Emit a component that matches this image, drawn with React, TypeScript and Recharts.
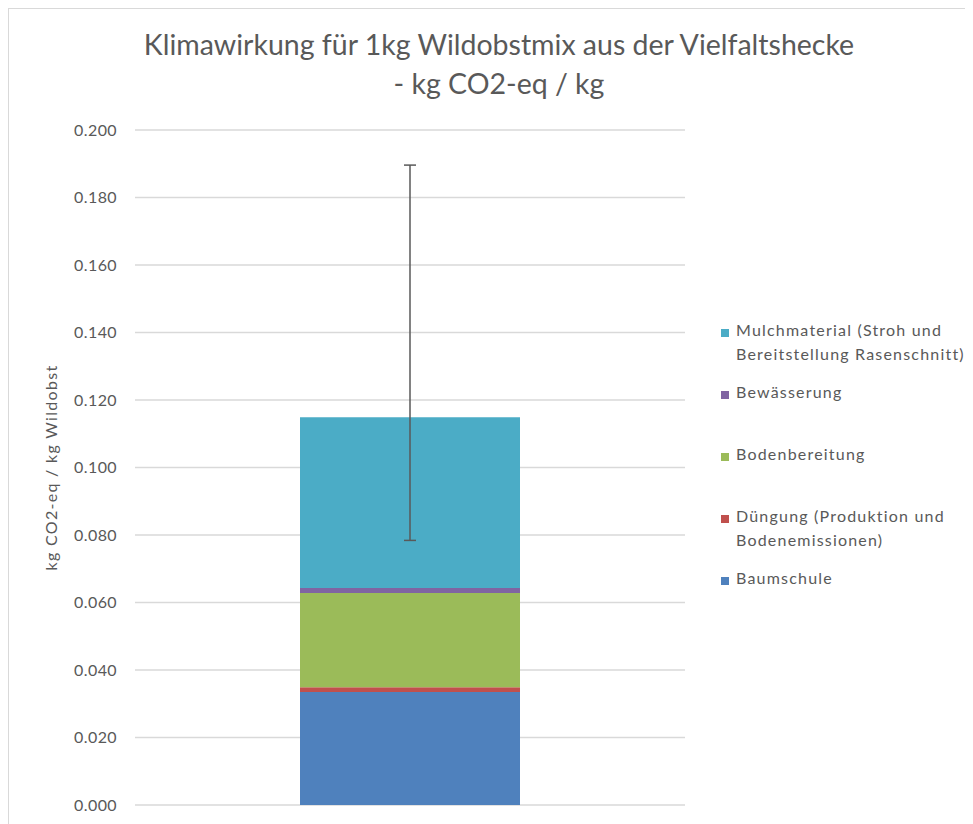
import React from "react";
import { BarChart, Bar, XAxis, YAxis, CartesianGrid, Legend, ErrorBar } from "recharts";

const categories = ["Wildobstmix"];
const baumschule = [0.0335];
const duengung = [0.0014];
const bodenbereitung = [0.0279];
const bewaesserung = [0.0015];
const mulch = [0.0506];
const errLow = [0.0365];
const errHigh = [0.0747];
const yTicks = [0, 0.02, 0.04, 0.06, 0.08, 0.1, 0.12, 0.14, 0.16, 0.18, 0.2];

const seriesNames = {
  baumschule: "Baumschule",
  duengung: "Düngung (Produktion und Bodenemissionen)",
  bodenbereitung: "Bodenbereitung",
  bewaesserung: "Bewässerung",
  mulch: "Mulchmaterial (Stroh und Bereitstellung Rasenschnitt)",
};

const legendItems = [
  { lines: ["Mulchmaterial (Stroh und", "Bereitstellung Rasenschnitt)"], color: "#4bacc6" },
  { lines: ["Bewässerung"], color: "#8064a2" },
  { lines: ["Bodenbereitung"], color: "#9bbb59" },
  { lines: ["Düngung (Produktion und", "Bodenemissionen)"], color: "#c0504d" },
  { lines: ["Baumschule"], color: "#4f81bd" },
];

const data = categories.map((c, i) => ({
  name: c,
  baumschule: baumschule[i],
  duengung: duengung[i],
  bodenbereitung: bodenbereitung[i],
  bewaesserung: bewaesserung[i],
  mulch: mulch[i],
  err: [errLow[i], errHigh[i]],
}));

const FONT = "Lato, 'Open Sans', sans-serif";
const GREY = "#595959";
const LEGEND_W = 260;

const renderLegend = () => (
  <div style={{ fontFamily: FONT, fontSize: 16, letterSpacing: "1.2px", color: GREY }}>
    {legendItems.map((it, i) => (
      <div key={i} style={{ height: 62, position: "relative" }}>
        <div
          style={{
            position: "absolute",
            left: 0,
            top: 7,
            width: 8,
            height: 8,
            background: it.color,
          }}
        />
        <div style={{ position: "absolute", left: 15, top: -4, lineHeight: "24px", whiteSpace: "nowrap" }}>
          {it.lines.map((l, j) => (
            <div key={j}>{l}</div>
          ))}
        </div>
      </div>
    ))}
  </div>
);

export default function App() {
  return (
    <div
      style={{
        position: "relative",
        width: 964,
        height: 815,
        borderLeft: "1px solid #d9d9d9",
        borderTop: "1px solid #d9d9d9",
        background: "#fff",
        overflow: "hidden",
      }}
    >
      <div
        style={{
          position: "absolute",
          left: 0,
          width: 980,
          top: 16,
          textAlign: "center",
          fontFamily: FONT,
          fontSize: 28.5,
          lineHeight: "39px",
          color: GREY,
          pointerEvents: "none",
        }}
      >
        <div>Klimawirkung für 1kg Wildobstmix aus der Vielfaltshecke</div>
        <div>- kg CO2-eq / kg</div>
      </div>
      <BarChart
        width={964}
        height={815}
        data={data}
        margin={{ top: 121, right: 288 - LEGEND_W, bottom: 19, left: 0 }}
        barCategoryGap="30%"
      >
        <CartesianGrid horizontal={true} vertical={false} stroke="#d9d9d9" strokeWidth={1.3} />
        <XAxis dataKey="name" tick={false} axisLine={{ stroke: "#d9d9d9" }} tickLine={false} height={0} />
        <YAxis
          width={126}
          domain={[0, 0.2]}
          ticks={yTicks}
          interval={0}
          tickFormatter={(v: number) => v.toFixed(3)}
          axisLine={false}
          tickLine={false}
          tickMargin={12}
          tick={{ fill: GREY, fontSize: 16, fontFamily: FONT, letterSpacing: "0.4px" }}
          label={{
            value: "kg CO2-eq / kg Wildobst",
            angle: -90,
            position: "insideLeft",
            offset: 42,
            style: { textAnchor: "middle", fill: GREY, fontSize: 16, fontFamily: FONT, letterSpacing: "1.3px" },
          }}
        />
        <Legend
          content={renderLegend}
          layout="vertical"
          align="right"
          verticalAlign="top"
          wrapperStyle={{ position: "absolute", left: 712, top: 313, width: LEGEND_W }}
        />
        <Bar dataKey="baumschule" name={seriesNames.baumschule} stackId="a" fill="#4f81bd" isAnimationActive={false} />
        <Bar dataKey="duengung" name={seriesNames.duengung} stackId="a" fill="#c0504d" isAnimationActive={false} />
        <Bar dataKey="bodenbereitung" name={seriesNames.bodenbereitung} stackId="a" fill="#9bbb59" isAnimationActive={false} />
        <Bar dataKey="bewaesserung" name={seriesNames.bewaesserung} stackId="a" fill="#8064a2" isAnimationActive={false} />
        <Bar dataKey="mulch" name={seriesNames.mulch} stackId="a" fill="#4bacc6" isAnimationActive={false}>
          <ErrorBar dataKey="err" width={6} stroke="#595959" strokeWidth={1.5} direction="y" isAnimationActive={false} />
        </Bar>
      </BarChart>
    </div>
  );
}
